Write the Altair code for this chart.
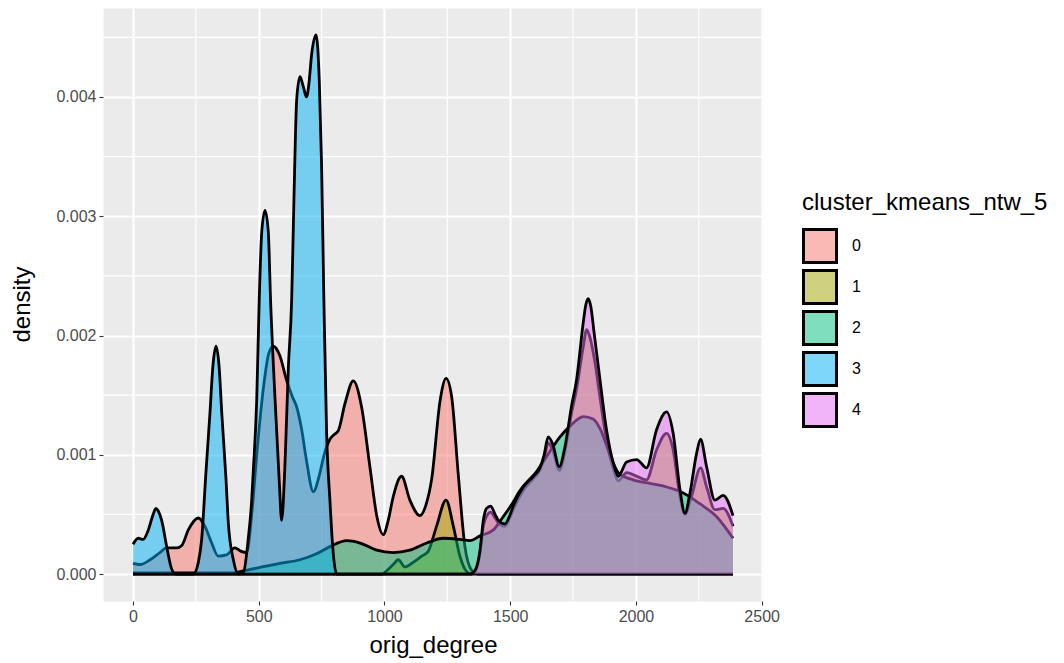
import altair as alt
import pandas as pd

# Kernel density of orig_degree for each k-means cluster (cluster_kmeans_ntw_5)
clusters = ["0", "1", "2", "3", "4"]
fill_colors = ["#F8766D", "#A3A500", "#00BF7D", "#00B0F6", "#E76BF3"]

deg_0 = [0, 28, 68, 107, 134, 174, 194, 220, 260, 286, 313, 339, 372, 405, 430,
         452, 472, 492, 518, 540, 558, 584, 610, 635, 651, 670, 690, 717, 740, 760,
         783, 800, 816, 843, 876, 909, 942, 970, 995, 1015, 1035, 1068, 1101, 1141,
         1165, 1188, 1221, 1245, 1267, 1294, 1320, 1347, 1370, 2386]
dens_0 = [0.00009, 0.00008, 0.00012, 0.00018, 0.00022, 0.00022, 0.00024, 0.00037,
          0.00047, 0.00040, 0.00026, 0.00015, 0.00016, 0.00022, 0.00019, 0.00018,
          0.00050, 0.00100, 0.00155, 0.00185, 0.00191, 0.00183, 0.00163, 0.00148,
          0.00140, 0.00122, 0.00095, 0.00069, 0.00082, 0.00100, 0.00113, 0.00117,
          0.00120, 0.00143, 0.00162, 0.00140, 0.00090, 0.00048, 0.00033, 0.00045,
          0.00065, 0.00082, 0.00062, 0.00049, 0.00058, 0.00080, 0.00145, 0.00164,
          0.00149, 0.00082, 0.00023, 0.00003, 0.0, 0.0]

deg_1 = [0, 990, 1010, 1035, 1055, 1081, 1115, 1148, 1174, 1207, 1245, 1274, 1300,
         1327, 1345, 1360, 1380, 1393, 1410, 1422, 1440, 1453, 1479, 1500, 1512,
         1552, 1592, 1618, 1635, 1651, 1669, 1695, 1718, 1744, 1764, 1790, 1804,
         1815, 1835, 1857, 1883, 1910, 1930, 1963, 2003, 2042, 2082, 2122, 2148,
         2175, 2195, 2221, 2257, 2281, 2314, 2347, 2386]
dens_1 = [0.0, 0.0, 0.00003, 0.00008, 0.00012, 0.00006, 0.00010, 0.00015, 0.00019,
          0.00040, 0.00062, 0.00040, 0.00015, 0.00002, 0.0, 0.00002, 0.00018,
          0.00040, 0.00050, 0.00052, 0.00047, 0.00043, 0.00040, 0.00048, 0.00054,
          0.00070, 0.00080, 0.00087, 0.00097, 0.00110, 0.00104, 0.00087, 0.00103,
          0.00135, 0.00155, 0.00190, 0.00205, 0.00200, 0.00180, 0.00148, 0.00112,
          0.00088, 0.00078, 0.00085, 0.00082, 0.00079, 0.00104, 0.00118, 0.00104,
          0.00065, 0.00050, 0.00065, 0.00089, 0.00073, 0.00054, 0.00055, 0.00040]

deg_2 = [0, 200, 400, 425, 492, 584, 664, 730, 783, 850, 903, 969, 1035, 1101, 1168,
         1234, 1300, 1340, 1380, 1433, 1472, 1505, 1539, 1605, 1671, 1698, 1738,
         1791, 1830, 1857, 1897, 1930, 1989, 2056, 2122, 2188, 2254, 2321, 2386]
dens_2 = [0.00001, 0.00001, 0.00001, 0.00002, 0.00005, 0.00009, 0.00012, 0.00017,
          0.00023, 0.00028, 0.00026, 0.00020, 0.00018, 0.00020, 0.00026, 0.00030,
          0.00029, 0.00028, 0.00032, 0.00037, 0.00048, 0.00058, 0.00070, 0.00086,
          0.00107, 0.00115, 0.00124, 0.00132, 0.00130, 0.00122, 0.00100, 0.00085,
          0.00079, 0.00076, 0.00073, 0.00068, 0.00059, 0.00048, 0.00030]

deg_3 = [0, 21, 40, 61, 80, 91, 100, 114, 134, 154, 170, 240, 260, 273, 290, 306,
         318, 330, 342, 353, 370, 379, 399, 419, 440, 458, 472, 478, 492, 502, 512,
         525, 538, 547, 565, 582, 591, 604, 618, 631, 640, 651, 664, 678, 690, 700,
         710, 728, 741, 750, 759, 770, 783, 796, 810, 2386]
dens_3 = [0.00025, 0.00030, 0.00029, 0.00037, 0.00050, 0.00055, 0.00053, 0.00045,
          0.00023, 0.00004, 0.0, 0.0, 0.00010, 0.00029, 0.00085, 0.00135, 0.00175,
          0.00191, 0.00175, 0.00135, 0.00079, 0.00043, 0.00012, 0.0, 0.00002,
          0.00029, 0.00062, 0.00085, 0.00146, 0.00230, 0.00287, 0.00305, 0.00287,
          0.00230, 0.00146, 0.00076, 0.00045, 0.00090, 0.00174, 0.00230, 0.00314,
          0.00398, 0.00417, 0.00408, 0.00400, 0.00412, 0.00435, 0.00452, 0.00412,
          0.00342, 0.00230, 0.00118, 0.00062, 0.00018, 0.0, 0.0]

deg_4 = [0, 1340, 1360, 1380, 1393, 1406, 1422, 1440, 1453, 1479, 1500, 1512, 1552,
         1592, 1618, 1635, 1651, 1669, 1695, 1718, 1744, 1764, 1790, 1800, 1810,
         1820, 1835, 1857, 1883, 1910, 1930, 1963, 2003, 2042, 2082, 2122, 2148,
         2175, 2195, 2215, 2241, 2257, 2281, 2314, 2347, 2386]
dens_4 = [0.0, 0.0, 0.00003, 0.00020, 0.00045, 0.00055, 0.00057, 0.00050, 0.00045,
          0.00042, 0.00050, 0.00057, 0.00073, 0.00082, 0.00089, 0.00100, 0.00115,
          0.00109, 0.00090, 0.00107, 0.00141, 0.00163, 0.00210, 0.00225, 0.00231,
          0.00225, 0.00200, 0.00163, 0.00121, 0.00093, 0.00082, 0.00094, 0.00096,
          0.00089, 0.00121, 0.00136, 0.00118, 0.00071, 0.00051, 0.00068, 0.00101,
          0.00113, 0.00090, 0.00062, 0.00066, 0.00049]

x_ticks = [0, 500, 1000, 1500, 2000, 2500]
y_ticks = [0.000, 0.001, 0.002, 0.003, 0.004]
x_minor = [250, 750, 1250, 1750, 2250]
y_minor = [0.0005, 0.0015, 0.0025, 0.0035, 0.0045]

degrees = [deg_0, deg_1, deg_2, deg_3, deg_4]
densities = [dens_0, dens_1, dens_2, dens_3, dens_4]

rows = []
for name, xs, ys in zip(clusters, degrees, densities):
    for xv, yv in zip(xs, ys):
        rows.append({"cluster": name, "outline": name, "orig_degree": xv, "density": yv})
df = pd.DataFrame(rows)

x_scale = alt.Scale(domain=[-119.3, 2505.3], nice=False, zero=False)
y_scale = alt.Scale(domain=[-0.000226, 0.004746], nice=False, zero=False)

x_axis = alt.Axis(values=x_ticks, format="d", title="orig_degree", labelFlush=False,
                  titleY=44, titleBaseline="middle")
y_axis = alt.Axis(values=y_ticks, format=".3f", title="density",
                  titleX=-81, titleY=296, titleBaseline="middle")

x_enc = alt.X("orig_degree:Q", scale=x_scale, axis=x_axis)
y_enc = alt.Y("density:Q", scale=y_scale, axis=y_axis, stack=None)

legend_box = dict(
    title="cluster_kmeans_ntw_5", orient="none", legendX=699, legendY=183,
    symbolType="square", symbolSize=1089, labelFontSize=16, labelOffset=14,
    rowPadding=-9, titleFontSize=24, titleFontWeight="normal", titlePadding=13,
    titleLimit=400,
)
# translucent fills of the legend keys
fill_legend = alt.Legend(symbolStrokeColor="transparent", symbolStrokeWidth=3,
                         labelColor="black", titleColor="black", **legend_box)
# solid black frames drawn over the same keys
frame_legend = alt.Legend(symbolFillColor="transparent", symbolStrokeWidth=3,
                          labelColor="transparent", titleColor="transparent",
                          **legend_box)

color_enc = alt.Color("cluster:N", scale=alt.Scale(domain=clusters, range=fill_colors),
                      legend=fill_legend)
stroke_enc = alt.Stroke("outline:N", scale=alt.Scale(range=["black"]),
                        legend=frame_legend)

# minor grid lines (major ones come from the axes)
minor_v = alt.Chart(pd.DataFrame({"orig_degree": x_minor})).mark_rule(
    color="white", strokeWidth=1.1).encode(x=x_enc)
minor_h = alt.Chart(pd.DataFrame({"density": y_minor})).mark_rule(
    color="white", strokeWidth=1.1).encode(y=y_enc)

layers = [minor_v, minor_h]
base = alt.Chart(df)
for name in clusters:
    sub = base.transform_filter(alt.datum.cluster == name)
    area = sub.mark_area(opacity=0.5, interpolate="monotone").encode(
        x=x_enc, y=y_enc, y2=alt.datum(0), color=color_enc)
    line = sub.mark_line(strokeWidth=2.8, interpolate="monotone").encode(
        x=x_enc, y=y_enc, stroke=stroke_enc)
    layers += [area, line]

chart = alt.layer(*layers).properties(
    width=660, height=593,
    autosize=alt.AutoSizeParams(type="none"),
    padding={"left": 103, "top": 8, "right": 301, "bottom": 62},
).configure(
    font="Liberation Sans",
).configure_view(
    fill="#EBEBEB", stroke="transparent",
).configure_axis(
    domain=False, grid=True, gridColor="white", gridWidth=2.2,
    tickColor="#333333", tickSize=4, tickWidth=1.1,
    labelColor="#4D4D4D", labelFontSize=16, labelPadding=3,
    titleColor="black", titleFontSize=24, titleFontWeight="normal",
)

chart.save("out.html", embed_options={"renderer": "svg", "actions": False})
